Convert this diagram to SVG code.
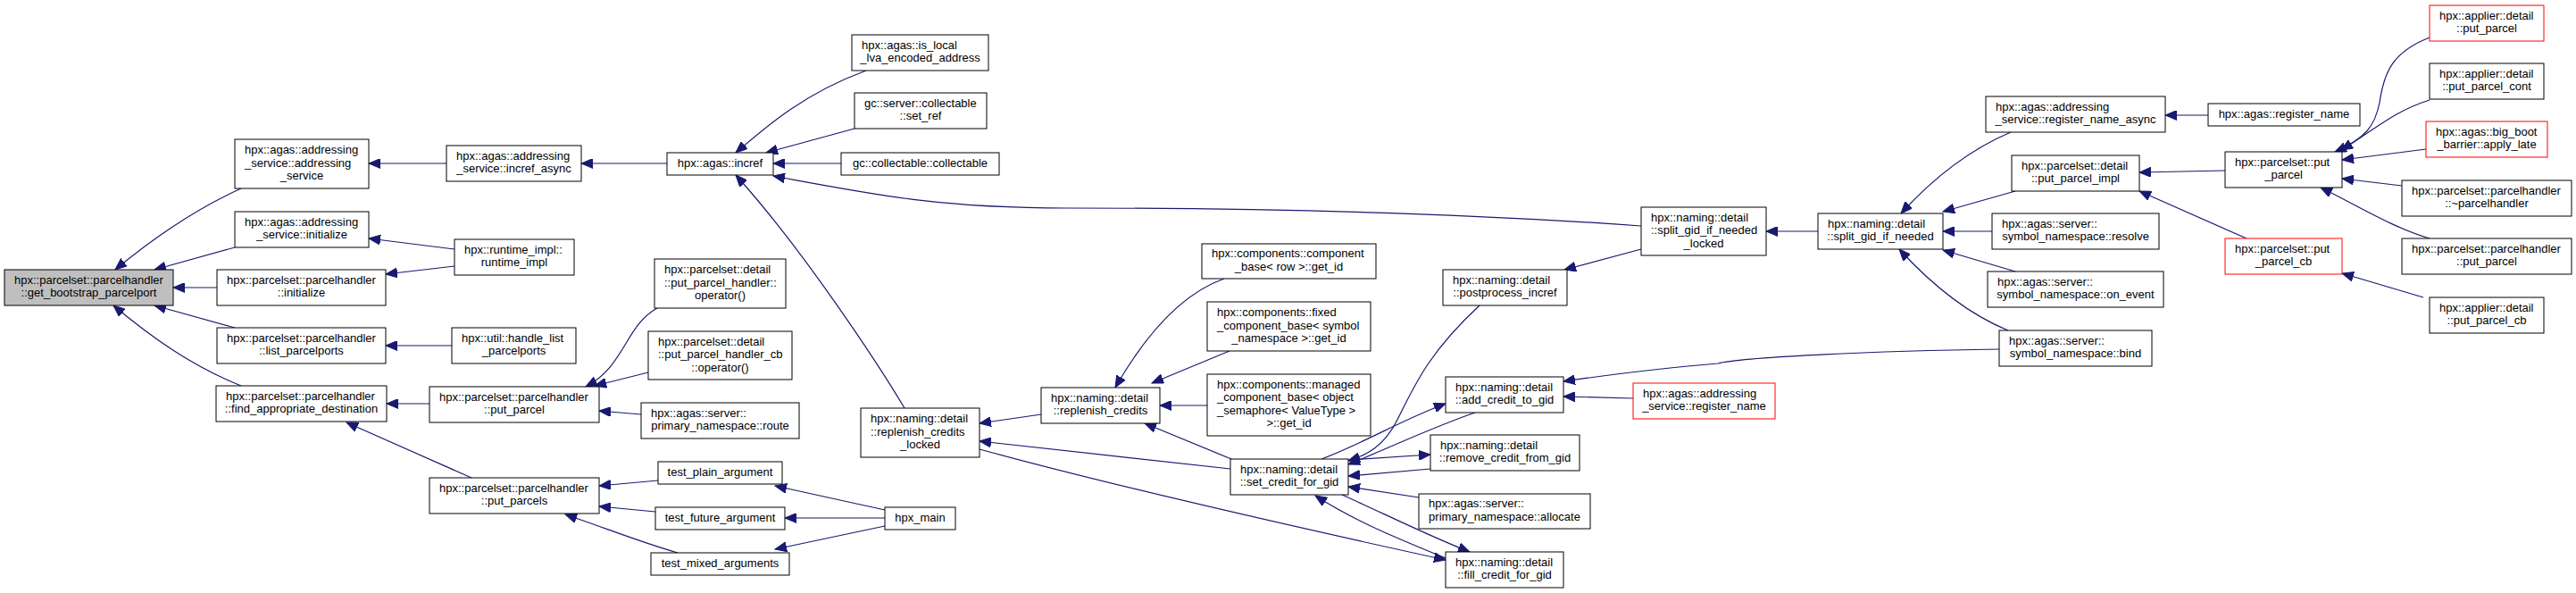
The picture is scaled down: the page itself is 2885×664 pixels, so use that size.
<svg xmlns="http://www.w3.org/2000/svg" width="2885" height="664" viewBox="0 0 2885 664">
<style>
rect{fill:#fff;stroke:#000;stroke-width:1}
.main rect{fill:#bfbfbf}
.red rect{stroke:#ff0000}
text{font-family:"Liberation Sans",Arial,sans-serif;font-size:13px;fill:#000}
.c{text-anchor:middle}
#edges path{fill:none;stroke:#191970;stroke-width:1.2;marker-end:url(#a)}
</style>
<defs>
<marker id="a" markerWidth="14" markerHeight="11" refX="13" refY="5.5" orient="auto" markerUnits="userSpaceOnUse"><path d="M0,0 L13,5.5 L0,11 z" fill="#191970" stroke="#191970" stroke-width="1"/></marker>
</defs>
<rect x="0" y="0" width="2885" height="664" style="fill:#fff;stroke:none"/>
<g id="edges">
<path d="M270,211 C215,236 170,268 129,302"/>
<path d="M263,277 L173,302"/>
<path d="M243,322 L194,322"/>
<path d="M263,367 L173,342"/>
<path d="M270,432 C215,410 170,378 127,342"/>
<path d="M500,183 L413,183"/>
<path d="M509,279 L413,267"/>
<path d="M509,298 L432,307"/>
<path d="M506,387 L432,387"/>
<path d="M481,452 L433,452"/>
<path d="M528,535 L388,473"/>
<path d="M747,183 L651,183"/>
<path d="M970,79 C900,105 860,140 824,171"/>
<path d="M957,144 L858,171"/>
<path d="M942,183 L866,183"/>
<path d="M1838,253 C1700,243 1500,233 1195,233 C1050,233 980,218 866,197"/>
<path d="M1013,457 C985,410 900,280 824,196"/>
<path d="M736,345 C700,365 700,410 656,433"/>
<path d="M726,417 L666,432"/>
<path d="M718,464 L671,460"/>
<path d="M737,538 L671,544"/>
<path d="M734,573 L671,567"/>
<path d="M759,619 C720,608 680,592 633,576"/>
<path d="M991,571 L868,544"/>
<path d="M991,580 L879,580"/>
<path d="M991,589 L868,615"/>
<path d="M1166,464 L1097,474"/>
<path d="M1378,525 L1097,494"/>
<path d="M1097,503 C1250,545 1450,590 1619,627"/>
<path d="M1371,312 C1320,330 1280,380 1249,434"/>
<path d="M1377,393 L1290,429"/>
<path d="M1352,454 L1299,454"/>
<path d="M1379,514 L1282,474"/>
<path d="M1480,514 C1530,495 1570,470 1619,452"/>
<path d="M1657,342 C1600,395 1585,430 1565,470 C1550,500 1530,510 1510,516"/>
<path d="M1652,462 C1600,480 1560,500 1510,520"/>
<path d="M1510,515 L1602,509"/>
<path d="M1602,525 L1510,533"/>
<path d="M1589,557 L1510,545"/>
<path d="M1503,554 C1550,575 1600,600 1646,618"/>
<path d="M1619,625 C1570,605 1520,585 1473,555"/>
<path d="M1829,446 L1751,444"/>
<path d="M2239,391 C2100,393 1950,400 1924,407 C1850,413 1800,420 1751,427"/>
<path d="M1838,279 L1752,302"/>
<path d="M2036,259 L1978,259"/>
<path d="M2252,148 C2200,170 2160,205 2129,239"/>
<path d="M2257,214 L2176,237"/>
<path d="M2231,259 L2176,259"/>
<path d="M2257,304 L2176,280"/>
<path d="M2249,370 C2200,350 2160,315 2127,279"/>
<path d="M2492,191 L2396,193"/>
<path d="M2516,267 L2396,214"/>
<path d="M2473,129 L2425,129"/>
<path d="M2721,42 C2680,58 2670,80 2665,115 C2660,140 2650,155 2615,170"/>
<path d="M2721,112 C2680,125 2660,145 2622,168"/>
<path d="M2717,167 L2623,179"/>
<path d="M2690,208 L2623,200"/>
<path d="M2721,267 C2680,255 2640,230 2599,210"/>
<path d="M2714,333 L2623,306"/>
</g>
<g id="n0" class="main"><rect x="5" y="302" width="189" height="40"/><text x="16" y="317.8">hpx::parcelset::parcelhandler</text><text class="c" x="99.5" y="332.3">::get_bootstrap_parcelport</text></g>
<g id="n1"><rect x="263" y="156" width="150" height="55"/><text x="274" y="172">hpx::agas::addressing</text><text x="274" y="186.5">_service::addressing</text><text class="c" x="338" y="201">_service</text></g>
<g id="n2"><rect x="263" y="237" width="150" height="40"/><text x="274" y="252.8">hpx::agas::addressing</text><text class="c" x="338" y="267.3">_service::initialize</text></g>
<g id="n3"><rect x="243" y="302" width="189" height="40"/><text x="254" y="317.8">hpx::parcelset::parcelhandler</text><text class="c" x="337.5" y="332.3">::initialize</text></g>
<g id="n4"><rect x="243" y="367" width="189" height="40"/><text x="254" y="382.8">hpx::parcelset::parcelhandler</text><text class="c" x="337.5" y="397.3">::list_parcelports</text></g>
<g id="n5"><rect x="242" y="432" width="191" height="40"/><text x="253" y="447.8">hpx::parcelset::parcelhandler</text><text class="c" x="337.5" y="462.3">::find_appropriate_destination</text></g>
<g id="n6"><rect x="500" y="163" width="151" height="40"/><text x="511" y="178.8">hpx::agas::addressing</text><text class="c" x="575.5" y="193.3">_service::incref_async</text></g>
<g id="n7"><rect x="509" y="268" width="134" height="40"/><text x="520" y="283.8">hpx::runtime_impl::</text><text class="c" x="576" y="298.3">runtime_impl</text></g>
<g id="n8"><rect x="506" y="367" width="139" height="40"/><text x="517" y="382.8">hpx::util::handle_list</text><text class="c" x="575.5" y="397.3">_parcelports</text></g>
<g id="n9"><rect x="481" y="433" width="190" height="40"/><text x="492" y="448.8">hpx::parcelset::parcelhandler</text><text class="c" x="576" y="463.3">::put_parcel</text></g>
<g id="n10"><rect x="481" y="535" width="190" height="40"/><text x="492" y="550.8">hpx::parcelset::parcelhandler</text><text class="c" x="576" y="565.3">::put_parcels</text></g>
<g id="n11"><rect x="747" y="171" width="119" height="25"/><text class="c" x="806.5" y="186.5">hpx::agas::incref</text></g>
<g id="n12"><rect x="733" y="290" width="147" height="55"/><text x="744" y="306">hpx::parcelset::detail</text><text x="744" y="320.5">::put_parcel_handler::</text><text class="c" x="806.5" y="335">operator()</text></g>
<g id="n13"><rect x="726" y="371" width="161" height="54"/><text x="737" y="386.5">hpx::parcelset::detail</text><text x="737" y="401">::put_parcel_handler_cb</text><text class="c" x="806.5" y="415.5">::operator()</text></g>
<g id="n14"><rect x="718" y="451" width="177" height="40"/><text x="729" y="466.8">hpx::agas::server::</text><text class="c" x="806.5" y="481.3">primary_namespace::route</text></g>
<g id="n15"><rect x="737" y="517" width="139" height="25"/><text class="c" x="806.5" y="532.5">test_plain_argument</text></g>
<g id="n16"><rect x="734" y="568" width="145" height="25"/><text class="c" x="806.5" y="583.5">test_future_argument</text></g>
<g id="n17"><rect x="729" y="619" width="155" height="25"/><text class="c" x="806.5" y="634.5">test_mixed_arguments</text></g>
<g id="n18"><rect x="954" y="39" width="153" height="40"/><text x="965" y="54.8">hpx::agas::is_local</text><text class="c" x="1030.5" y="69.3">_lva_encoded_address</text></g>
<g id="n19"><rect x="957" y="104" width="148" height="40"/><text x="968" y="119.8">gc::server::collectable</text><text class="c" x="1031" y="134.3">::set_ref</text></g>
<g id="n20"><rect x="942" y="171" width="177" height="25"/><text class="c" x="1030.5" y="186.5">gc::collectable::collectable</text></g>
<g id="n21"><rect x="964" y="457" width="133" height="55"/><text x="975" y="473">hpx::naming::detail</text><text x="975" y="487.5">::replenish_credits</text><text class="c" x="1030.5" y="502">_locked</text></g>
<g id="n22"><rect x="991" y="568" width="79" height="25"/><text class="c" x="1030.5" y="583.5">hpx_main</text></g>
<g id="n23"><rect x="1166" y="434" width="133" height="40"/><text x="1177" y="449.8">hpx::naming::detail</text><text class="c" x="1232.5" y="464.3">::replenish_credits</text></g>
<g id="n24"><rect x="1346" y="273" width="195" height="39"/><text x="1357" y="288.3">hpx::components::component</text><text class="c" x="1443.5" y="302.8">_base&lt; row &gt;::get_id</text></g>
<g id="n25"><rect x="1352" y="338" width="183" height="55"/><text x="1363" y="354">hpx::components::fixed</text><text x="1363" y="368.5">_component_base&lt; symbol</text><text class="c" x="1443.5" y="383">_namespace &gt;::get_id</text></g>
<g id="n26"><rect x="1352" y="419" width="183" height="69"/><text x="1363" y="434.8">hpx::components::managed</text><text x="1363" y="449.3">_component_base&lt; object</text><text x="1363" y="463.8">_semaphore&lt; ValueType &gt;</text><text class="c" x="1443.5" y="478.3">&gt;::get_id</text></g>
<g id="n27"><rect x="1378" y="514" width="132" height="40"/><text x="1389" y="529.8">hpx::naming::detail</text><text class="c" x="1444" y="544.3">::set_credit_for_gid</text></g>
<g id="n28"><rect x="1838" y="232" width="140" height="54"/><text x="1849" y="247.5">hpx::naming::detail</text><text x="1849" y="262">::split_gid_if_needed</text><text class="c" x="1908" y="276.5">_locked</text></g>
<g id="n29"><rect x="1616" y="302" width="139" height="40"/><text x="1627" y="317.8">hpx::naming::detail</text><text class="c" x="1685.5" y="332.3">::postprocess_incref</text></g>
<g id="n30"><rect x="1619" y="422" width="132" height="40"/><text x="1630" y="437.8">hpx::naming::detail</text><text class="c" x="1685" y="452.3">::add_credit_to_gid</text></g>
<g id="n31" class="red"><rect x="1829" y="429" width="159" height="40"/><text x="1840" y="444.8">hpx::agas::addressing</text><text class="c" x="1908.5" y="459.3">_service::register_name</text></g>
<g id="n32"><rect x="1602" y="487" width="167" height="40"/><text x="1613" y="502.8">hpx::naming::detail</text><text class="c" x="1685.5" y="517.3">::remove_credit_from_gid</text></g>
<g id="n33"><rect x="1589" y="553" width="192" height="39"/><text x="1600" y="568.3">hpx::agas::server::</text><text class="c" x="1685" y="582.8">primary_namespace::allocate</text></g>
<g id="n34"><rect x="1619" y="618" width="132" height="40"/><text x="1630" y="633.8">hpx::naming::detail</text><text class="c" x="1685" y="648.3">::fill_credit_for_gid</text></g>
<g id="n35"><rect x="2036" y="239" width="140" height="40"/><text x="2047" y="254.8">hpx::naming::detail</text><text class="c" x="2106" y="269.3">::split_gid_if_needed</text></g>
<g id="n36"><rect x="2224" y="108" width="201" height="40"/><text x="2235" y="123.8">hpx::agas::addressing</text><text class="c" x="2324.5" y="138.3">_service::register_name_async</text></g>
<g id="n37"><rect x="2253" y="174" width="143" height="40"/><text x="2264" y="189.8">hpx::parcelset::detail</text><text class="c" x="2324.5" y="204.3">::put_parcel_impl</text></g>
<g id="n38"><rect x="2231" y="239" width="187" height="40"/><text x="2242" y="254.8">hpx::agas::server::</text><text class="c" x="2324.5" y="269.3">symbol_namespace::resolve</text></g>
<g id="n39"><rect x="2226" y="304" width="197" height="40"/><text x="2237" y="319.8">hpx::agas::server::</text><text class="c" x="2324.5" y="334.3">symbol_namespace::on_event</text></g>
<g id="n40"><rect x="2239" y="370" width="171" height="40"/><text x="2250" y="385.8">hpx::agas::server::</text><text class="c" x="2324.5" y="400.3">symbol_namespace::bind</text></g>
<g id="n41"><rect x="2473" y="116" width="170" height="25"/><text class="c" x="2558" y="131.5">hpx::agas::register_name</text></g>
<g id="n42"><rect x="2492" y="170" width="131" height="40"/><text x="2503" y="185.8">hpx::parcelset::put</text><text class="c" x="2557.5" y="200.3">_parcel</text></g>
<g id="n43" class="red"><rect x="2492" y="267" width="131" height="40"/><text x="2503" y="282.8">hpx::parcelset::put</text><text class="c" x="2557.5" y="297.3">_parcel_cb</text></g>
<g id="n44" class="red"><rect x="2721" y="6" width="128" height="40"/><text x="2732" y="21.8">hpx::applier::detail</text><text class="c" x="2785" y="36.3">::put_parcel</text></g>
<g id="n45"><rect x="2721" y="71" width="128" height="40"/><text x="2732" y="86.8">hpx::applier::detail</text><text class="c" x="2785" y="101.3">::put_parcel_cont</text></g>
<g id="n46" class="red"><rect x="2717" y="136" width="136" height="40"/><text x="2728" y="151.8">hpx::agas::big_boot</text><text class="c" x="2785" y="166.3">_barrier::apply_late</text></g>
<g id="n47"><rect x="2690" y="202" width="190" height="40"/><text x="2701" y="217.8">hpx::parcelset::parcelhandler</text><text class="c" x="2785" y="232.3">::~parcelhandler</text></g>
<g id="n48"><rect x="2690" y="267" width="190" height="40"/><text x="2701" y="282.8">hpx::parcelset::parcelhandler</text><text class="c" x="2785" y="297.3">::put_parcel</text></g>
<g id="n49"><rect x="2721" y="333" width="128" height="40"/><text x="2732" y="348.8">hpx::applier::detail</text><text class="c" x="2785" y="363.3">::put_parcel_cb</text></g>
</svg>
